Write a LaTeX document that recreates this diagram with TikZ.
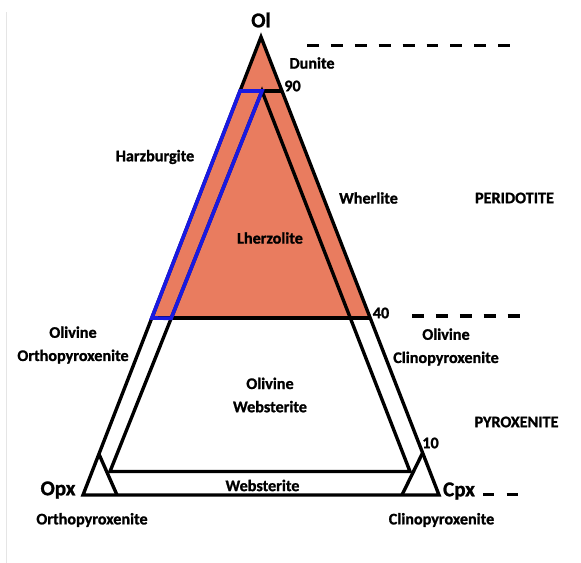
\documentclass[tikz,border=0pt]{standalone}
\usepackage{fontspec}
\setmainfont{Carlito}[BoldFeatures={FakeBold=1.2}]
\usetikzlibrary{calc}
\definecolor{peridot}{RGB}{233,124,95}
\definecolor{harzblue}{RGB}{25,25,225}
\tikzset{
  edge line/.style={
    black,
    line width=2.4pt,
    line join=miter
  },
  harz line/.style={
    harzblue,
    line width=2.6pt,
    line join=miter
  },
  sep line/.style={
    black,
    line width=2.8pt,
    dash pattern=on 8.5pt off 8.5pt
  },
  frame line/.style={
    black!10,
    line width=0.7pt
  },
  lbl/.style={
    font=\bfseries\fontsize{11.5}{16.5}\selectfont,
    align=center,
    inner sep=0pt
  },
  apex lbl/.style={
    font=\bfseries\fontsize{15}{17}\selectfont,
    inner sep=0pt
  }
}

\begin{document}
\begin{tikzpicture}[x=0.025cm,y=-0.025cm]
    \useasboundingbox (0,0) rectangle (581,563);

    % 左端の細線
    \draw[frame line] (6,12) -- (6,563);

    % 頂点と境界点
    \coordinate (ol) at (261,37);
    \coordinate (opx) at (83,495);
    \coordinate (cpx) at (439,495);
    \coordinate (o90L) at ($(ol)!0.1179!(opx)$);
    \coordinate (o90R) at ($(ol)!0.1179!(cpx)$);
    \coordinate (o40L) at ($(ol)!0.6135!(opx)$);
    \coordinate (o40R) at ($(ol)!0.6135!(cpx)$);
    \coordinate (split) at (262,91);
    \coordinate (o10L) at (110,471.5);
    \coordinate (o10R) at (410,471.5);
    \coordinate (harzB) at ($(split)!0.5974!(o10L)$);
    \coordinate (opxA) at ($(ol)!0.9105!(opx)$);
    \coordinate (opxB) at (117,495);
    \coordinate (cpxA) at ($(ol)!0.908!(cpx)$);
    \coordinate (cpxB) at (402,495);

    % かんらん岩の領域
    \fill[peridot] (ol) -- (o40R) -- (o40L) -- cycle;

    % 三角形と境界線
    \draw[edge line] (ol) -- (opx) -- (cpx) -- cycle;
    \draw[edge line] (o90L) -- (o90R);
    \draw[edge line] (o40L) -- (o40R);
    \draw[edge line] (split) -- (o10L) -- (o10R) -- cycle;
    \draw[edge line] (opxA) -- (opxB);
    \draw[edge line] (cpxA) -- (cpxB);

    % ハルツバージャイト
    \draw[harz line] (o90L) -- (split) -- (harzB) -- (o40L) -- cycle;

    % 区分の破線
    \coordinate (periS) at (307,45.5);
    \coordinate (periE) at (513,45.5);
    \coordinate (pyroS) at (412,316);
    \coordinate (pyroE) at (520,316);
    \coordinate (baseS) at (483,494.5);
    \coordinate (baseE) at (519,494.5);
    \draw[sep line] (periS) -- (periE);
    \draw[sep line] (pyroS) -- (pyroE);
    \draw[sep line, dash pattern=on 7.8pt off 9pt] (baseS) -- (baseE);

    % 端成分
    \node[apex lbl] (olLbl) at (261,20) {Ol};
    \node[apex lbl] (opxLbl) at (58,490) {Opx};
    \node[apex lbl] (cpxLbl) at (459,491) {Cpx};

    % 数値
    \node[lbl] (n90) at (292.5,86) {90};
    \node[lbl] (n40) at (381,313) {40};
    \node[lbl] (n10) at (430.5,443) {10};

    % 岩石名
    \node[lbl] (dunite) at (312,63) {Dunite};
    \node[lbl] (harz) at (155,157) {Harzburgite};
    \node[lbl] (lherz) at (270,238) {Lherzolite};
    \node[lbl] (wher) at (368.5,198) {Wherlite};
    \node[lbl] (oopx) at (73,345) {Olivine\\Orthopyroxenite};
    \node[lbl] (ocpx) at (446,347) {Olivine\\Clinopyroxenite};
    \node[lbl] (oweb) at (270,395) {Olivine\\Websterite};
    \node[lbl] (web) at (262.5,485.5) {Websterite};
    \node[lbl] (orthoPx) at (92,520) {Orthopyroxenite};
    \node[lbl] (clinoPx) at (441.5,520) {Clinopyroxenite};

    % 大分類
    \node[lbl] (peri) at (514.5,198) {PERIDOTITE};
    \node[lbl] (pyro) at (516.5,422) {PYROXENITE};

\end{tikzpicture}
\end{document}
